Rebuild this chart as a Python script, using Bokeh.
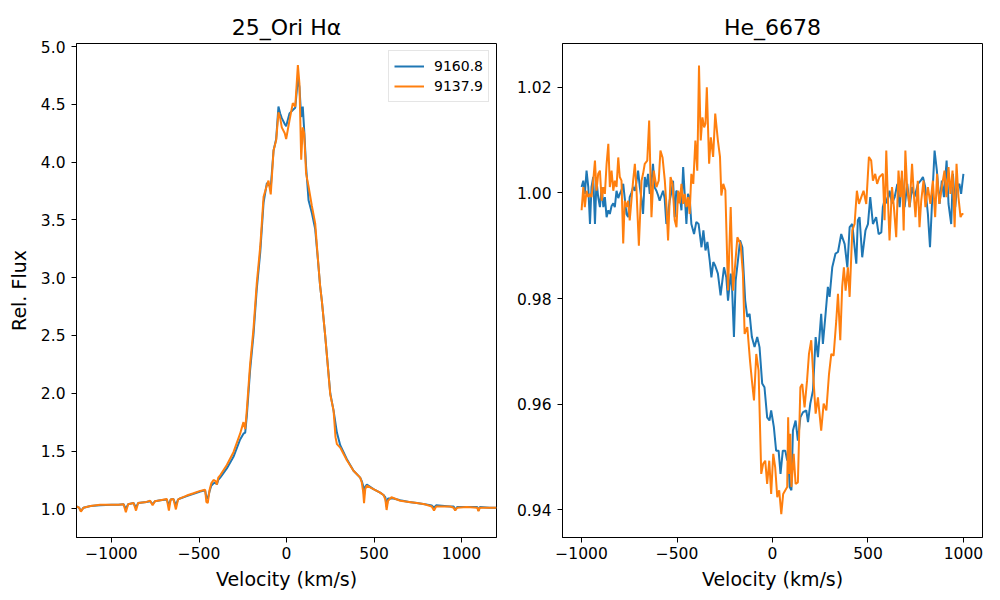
from bokeh.plotting import figure
from bokeh.layouts import row
from bokeh.models import Range1d, FixedTicker
from bokeh.embed import file_html
from bokeh.resources import INLINE

# ---------------- data: left panel (H-alpha) ----------------
ha_vel_a = [-1200, -1185, -1175, -1160, -1120, -1065, -1000, -960, -931, -918, -905, -874, -860, -848,
            -800, -779, -765, -752, -720, -684, -672, -662, -646, -632, -620, -608, -570, -531, -493,
            -465, -458, -450, -440, -430, -417, -405, -398, -390, -379, -341, -303, -265, -246, -236,
            -227, -208, -189, -170, -150, -131, -112, -100, -90, -74, -59, -46, -36, -27, -10, -2, 17,
            36, 50, 65, 74, 84, 93, 101, 112, 126, 145, 164, 177, 192, 202, 221, 250, 269, 288, 307,
            345, 383, 421, 430, 438, 443, 450, 459, 497, 535, 554, 565, 572, 580, 611, 650, 700, 745,
            790, 830, 843, 855, 935, 955, 964, 975, 1030, 1090, 1097, 1105, 1160, 1200]
ha_flux_a = [1.02, 1.01, 0.98, 1.01, 1.025, 1.03, 1.035, 1.035, 1.04, 1.00, 1.04, 1.05, 1.01, 1.05,
             1.06, 1.065, 1.04, 1.065, 1.075, 1.08, 1.03, 1.08, 1.085, 1.03, 1.08, 1.09, 1.11, 1.13, 1.15,
             1.16, 1.10, 1.09, 1.15, 1.20, 1.22, 1.23, 1.21, 1.25, 1.27, 1.35, 1.45, 1.60, 1.65, 1.66,
             1.80, 2.20, 2.50, 2.90, 3.22, 3.65, 3.82, 3.80, 3.78, 4.10, 4.20, 4.48, 4.42, 4.38, 4.33, 4.31, 4.42,
             4.45, 4.47, 4.72, 4.65, 4.39, 4.48, 4.28, 3.96, 3.67, 3.56, 3.42, 3.20, 2.93, 2.80, 2.50, 2.00,
             1.85, 1.66, 1.55, 1.43, 1.33, 1.27, 1.24, 1.20, 1.12, 1.19, 1.21, 1.17, 1.14, 1.12, 1.10, 1.02,
             1.09, 1.09, 1.075, 1.06, 1.05, 1.04, 1.03, 1.01, 1.03, 1.02, 1.02, 0.99, 1.015, 1.015, 1.015,
             0.985, 1.015, 1.01, 1.01]

ha_vel_b = [-1200, -1185, -1175, -1160, -1120, -1065, -1000, -960, -931, -918, -905, -874, -860, -848,
            -800, -779, -765, -752, -720, -684, -672, -662, -646, -632, -620, -608, -570, -531, -493,
            -465, -458, -450, -440, -430, -417, -405, -398, -390, -379, -341, -303, -265, -246, -236,
            -227, -208, -189, -170, -150, -131, -112, -103, -90, -74, -59, -46, -36, -27, -10, -2, 17,
            36, 50, 65, 74, 84, 93, 101, 112, 126, 145, 164, 177, 192, 202, 221, 250, 269, 280, 288, 307,
            345, 383, 421, 430, 438, 443, 450, 459, 497, 535, 554, 565, 572, 580, 600, 650, 700, 745,
            790, 830, 843, 855, 935, 955, 964, 975, 1030, 1090, 1097, 1105, 1160, 1200]
ha_flux_b = [1.02, 1.01, 0.975, 1.01, 1.025, 1.035, 1.035, 1.035, 1.04, 0.97, 1.04, 1.05, 0.985, 1.05,
             1.06, 1.07, 1.03, 1.065, 1.075, 1.085, 0.985, 1.08, 1.085, 0.995, 1.08, 1.09, 1.115, 1.135, 1.155,
             1.165, 1.06, 1.05, 1.16, 1.22, 1.25, 1.24, 1.21, 1.27, 1.29, 1.38, 1.49, 1.65, 1.75, 1.69,
             1.85, 2.25, 2.55, 2.95, 3.27, 3.70, 3.80, 3.84, 3.72, 4.10, 4.19, 4.43, 4.38, 4.30, 4.25, 4.20, 4.36,
             4.51, 4.48, 4.84, 4.68, 4.02, 4.30, 4.25, 3.90, 3.79, 3.62, 3.47, 3.21, 2.93, 2.80, 2.50, 1.99,
             1.85, 1.62, 1.56, 1.53, 1.42, 1.33, 1.27, 1.23, 1.15, 1.05, 1.17, 1.20, 1.17, 1.14, 1.12, 1.08, 0.99,
             1.07, 1.10, 1.07, 1.06, 1.05, 1.04, 1.02, 0.985, 1.02, 1.02, 1.01, 0.985, 1.01, 1.015, 1.01,
             0.98, 1.01, 1.01, 1.01]

# ---------------- data: right panel (He 6678) ----------------
he_vel_a = [-1000, -991, -983, -974, -965, -956, -948, -939, -930, -922, -913, -904, -895, -886, -878,
            -869, -860, -852, -843, -834, -826, -817, -808, -800, -791, -782, -774, -765, -756, -748,
            -739, -730, -721, -713, -704, -695, -687, -678, -669, -660, -652, -643, -634, -626, -617,
            -608, -599, -591, -582, -573, -565, -556, -547, -539, -530, -521, -512, -504, -495, -486,
            -477, -468, -460, -451, -443, -434, -425, -411, -399, -387, -372, -362, -351, -341, -329,
            -320, -310, -300, -286, -272, -254, -242, -233, -219, -212, -202, -193, -181, -170, -158,
            -143, -132, -120, -108, -94, -80, -68, -54, -42, -28, -16, -7, 7, 19, 32, 42, 54, 67, 77,
            81, 90, 99, 107, 121, 133, 146, 160, 177, 186, 198, 212, 226, 238, 255, 264, 278, 290, 299,
            313, 330, 343, 360, 378, 392, 404, 418, 430, 439, 447, 456, 470, 487, 500, 512, 526, 543,
            556, 570, 578, 591, 601, 613, 626, 640, 654, 666, 678, 692, 706, 718, 731, 744, 762, 776,
            788, 800, 814, 825, 837, 849, 861, 875, 887, 898, 912, 922, 936, 945, 957, 967, 979, 988, 1000]
he_flux_a = [1.0011, 1.0023, 0.9998, 1.0042, 1.0011, 0.9941, 1.0011, 1.0030, 0.9941, 1.0023, 0.9992,
             0.9973, 1.0011, 0.9973, 0.9992, 0.9954, 0.9967, 0.9960, 0.9975, 0.9980, 0.9973, 1.0004,
             0.9990, 0.9998, 1.0005, 1.0017, 0.9990, 0.9960, 0.9954, 0.9992, 1.0000, 1.0011, 1.0004,
             1.0020, 1.0042, 1.0011, 0.9990, 0.9960, 1.0030, 1.0011, 1.0036, 0.9998, 1.0020, 1.0055,
             1.0010, 1.0004, 0.9995, 0.9985, 0.9995, 1.0004, 0.9990, 0.9941, 0.9960, 0.9985, 1.0000,
             1.0023, 0.9954, 1.0004, 1.0000, 0.9998, 0.9967, 1.0049, 0.9998, 0.9941, 0.9998, 0.9992,
             0.9941, 0.9922, 0.9945, 0.9941, 0.9897, 0.9929, 0.9891, 0.9907, 0.9872, 0.9840, 0.9869,
             0.9862, 0.9847, 0.9806, 0.9859, 0.9840, 0.9796, 0.9847, 0.9822, 0.9727, 0.9834, 0.9872,
             0.9910, 0.9897, 0.9796, 0.9765, 0.9771, 0.9727, 0.9708, 0.9727, 0.9708, 0.9639, 0.9632,
             0.9575, 0.9569, 0.9588, 0.9557, 0.9512, 0.9512, 0.9468, 0.9512, 0.9512, 0.9493, 0.9506,
             0.9443, 0.9437, 0.9550, 0.9569, 0.9531, 0.9575, 0.9585, 0.9588, 0.9566, 0.9601, 0.9626,
             0.9727, 0.9689, 0.9771, 0.9714, 0.9771, 0.9822, 0.9803, 0.9859, 0.9885, 0.9888, 0.9922,
             0.9903, 0.9859, 0.9935, 0.9941, 0.9897, 0.9866, 0.9948, 0.9954, 0.9878, 0.9929, 0.9941,
             0.9992, 0.9941, 0.9954, 0.9922, 0.9925, 0.9973, 0.9992, 0.9980, 1.0004, 0.9980, 0.9992,
             1.0017, 0.9973, 1.0030, 0.9973, 1.0017, 0.9973, 1.0011, 0.9992, 1.0017, 1.0023, 1.0030,
             1.0011, 0.9960, 0.9897, 0.9992, 1.0080, 1.0042, 0.9979, 1.0023, 0.9992, 1.0061, 0.9979,
             0.9941, 1.0036, 0.9973, 1.0011, 1.0017, 0.9998, 1.0036]

he_vel_b = [-1000, -991, -983, -974, -965, -956, -948, -939, -930, -922, -913, -904, -895, -886, -878,
            -869, -860, -852, -843, -834, -826, -817, -808, -800, -791, -782, -774, -765, -756, -748,
            -739, -730, -721, -713, -700, -686, -678, -669, -656, -646, -634, -622, -608, -596, -587,
            -576, -564, -555, -547, -534, -524, -512, -503, -494, -486, -477, -468, -460, -451, -443,
            -434, -425, -415, -404, -394, -385, -376, -367, -358, -351, -344, -332, -323, -311, -300,
            -286, -275, -268, -258, -247, -233, -219, -207, -198, -184, -167, -155, -146, -132, -118,
            -108, -97, -85, -73, -59, -49, -38, -28, -17, -7, 4, 14, 25, 35, 46, 56, 67, 77, 82, 88,
            93, 99, 111, 121, 133, 146, 156, 168, 181, 191, 203, 215, 226, 238, 255, 268, 282, 296, 308,
            320, 334, 343, 355, 365, 374, 383, 395, 404, 418, 430, 442, 453, 465, 477, 491, 505, 517,
            526, 538, 548, 560, 578, 587, 596, 604, 613, 626, 636, 648, 660, 670, 678, 687, 696, 705,
            718, 731, 740, 749, 761, 770, 779, 791, 801, 814, 827, 840, 852, 862, 874, 887, 901, 911,
            922, 932, 943, 954, 964, 974, 985, 993, 1000]
he_flux_b = [0.9967, 1.0011, 0.9973, 1.0004, 0.9992, 0.9998, 0.9992, 1.0023, 1.0061, 1.0004, 1.0036,
             1.0042, 0.9985, 1.0011, 0.9998, 1.0055, 1.0093, 1.0011, 1.0042, 1.0004, 1.0023, 1.0011,
             1.0067, 1.0030, 1.0023, 0.9904, 0.9985, 0.9973, 0.9985, 0.9948, 0.9985, 1.0023, 1.0055,
             1.0011, 0.9900, 1.0023, 1.0036, 1.0055, 1.0061, 1.0137, 0.9954, 1.0042, 1.0011, 1.0023,
             1.0080, 1.0067, 1.0023, 0.9973, 0.9910, 1.0030, 1.0017, 0.9948, 0.9935, 1.0004, 0.9980,
             1.0017, 0.9979, 0.9998, 0.9973, 0.9992, 0.9960, 1.0036, 1.0017, 1.0099, 1.0042, 1.0241,
             1.0099, 1.0143, 1.0124, 1.0131, 1.0200, 1.0055, 1.0105, 1.0068, 1.0150, 1.0099, 1.0068,
             0.9995, 1.0017, 1.0005, 0.9815, 0.9973, 0.9815, 0.9853, 0.9916, 0.9903, 0.9847, 0.9733,
             0.9746, 0.9683, 0.9645, 0.9607, 0.9695, 0.9664, 0.9468, 0.9487, 0.9493, 0.9449, 0.9493,
             0.9430, 0.9506, 0.9481, 0.9424, 0.9437, 0.9392, 0.9430, 0.9437, 0.9443, 0.9575, 0.9468,
             0.9544, 0.9443, 0.9506, 0.9449, 0.9452, 0.9632, 0.9638, 0.9594, 0.9645, 0.9695, 0.9721,
             0.9645, 0.9582, 0.9613, 0.9550, 0.9601, 0.9588, 0.9657, 0.9695, 0.9692, 0.9758, 0.9809,
             0.9721, 0.9822, 0.9859, 0.9815, 0.9859, 0.9803, 0.9929, 0.9941, 1.0004, 0.9979, 0.9992,
             1.0004, 0.9979, 1.0068, 1.0061, 1.0023, 1.0036, 1.0017, 1.0030, 1.0036, 0.9948, 1.0080,
             0.9992, 0.9910, 1.0011, 0.9973, 0.9916, 1.0042, 0.9992, 1.0042, 0.9929, 1.0080, 1.0011,
             0.9973, 1.0055, 0.9998, 0.9954, 1.0023, 0.9935, 0.9985, 1.0023, 0.9973, 1.0011, 0.9979,
             1.0023, 0.9954, 1.0036, 0.9979, 1.0011, 1.0042, 0.9992, 1.0049, 0.9998, 1.0042, 0.9935,
             1.0055, 0.9992, 0.9954, 0.9960, 0.9960]

series_labels = ["9160.8", "9137.9"]
titles = ["25_Ori H\u03b1", "He_6678"]
x_label = "Velocity (km/s)"
y_label = "Rel. Flux"
x_ticks = [-1000, -500, 0, 500, 1000]
ha_y_ticks = [1.0, 1.5, 2.0, 2.5, 3.0, 3.5, 4.0, 4.5, 5.0]
he_y_ticks = [0.94, 0.96, 0.98, 1.00, 1.02]

BLUE = "#1f77b4"
ORANGE = "#ff7f0e"
FONT = "DejaVu Sans"


def style(p, yfmt, yticks):
    p.title.text_font = FONT
    p.title.text_font_size = "22px"
    p.title.text_font_style = "normal"
    p.title.text_color = "black"
    p.title.align = "center"
    p.title.standoff = 8
    p.outline_line_color = "black"
    p.outline_line_width = 1
    p.outline_line_alpha = 1
    p.background_fill_color = "white"
    p.border_fill_color = "white"
    p.xgrid.visible = False
    p.ygrid.visible = False
    for ax in (p.xaxis[0], p.yaxis[0]):
        ax.axis_line_color = "black"
        ax.major_tick_line_color = "black"
        ax.major_tick_out = 5
        ax.major_tick_in = 0
        ax.minor_tick_line_color = None
        ax.major_label_text_font = FONT
        ax.major_label_text_font_size = "15.5px"
        ax.major_label_text_color = "black"
        ax.axis_label_text_font = FONT
        ax.axis_label_text_font_size = "19px"
        ax.axis_label_text_font_style = "normal"
        ax.axis_label_text_color = "black"
    p.xaxis.ticker = FixedTicker(ticks=x_ticks)
    p.xaxis.major_label_overrides = {t: str(t).replace("-", "\u2212") for t in x_ticks}
    p.xaxis.major_label_standoff = 4
    p.xaxis.axis_label_standoff = 6
    p.yaxis.ticker = FixedTicker(ticks=yticks)
    p.yaxis.major_label_overrides = {t: (yfmt % t) for t in yticks}
    p.yaxis.major_label_standoff = 6
    p.yaxis.axis_label_standoff = 8


p1 = figure(width=500, height=596, output_backend="svg", toolbar_location=None,
            x_range=Range1d(-1200, 1200), y_range=Range1d(0.752, 5.026),
            title=titles[0], min_border_left=76, min_border_right=4,
            min_border_top=43, min_border_bottom=59)
p1.line(ha_vel_a, ha_flux_a, line_color=BLUE, line_width=2, legend_label=series_labels[0])
p1.line(ha_vel_b, ha_flux_b, line_color=ORANGE, line_width=2, legend_label=series_labels[1])
style(p1, "%.1f", ha_y_ticks)
p1.xaxis.axis_label = x_label
p1.yaxis.axis_label = y_label
lg = p1.legend[0]
lg.location = "top_right"
lg.margin = 7
lg.padding = 5
lg.spacing = 0
lg.label_text_font = FONT
lg.label_text_font_size = "14px"
lg.label_text_color = "black"
lg.glyph_width = 30
lg.glyph_height = 20
lg.label_height = 20
lg.label_standoff = 10
lg.border_line_color = "#cccccc"
lg.border_line_width = 1
lg.background_fill_alpha = 0.8

p2 = figure(width=500, height=596, output_backend="svg", toolbar_location=None,
            x_range=Range1d(-1100, 1100), y_range=Range1d(0.93476, 1.02827),
            title=titles[1], min_border_left=62, min_border_right=18,
            min_border_top=43, min_border_bottom=59)
p2.line(he_vel_a, he_flux_a, line_color=BLUE, line_width=2)
p2.line(he_vel_b, he_flux_b, line_color=ORANGE, line_width=2)
style(p2, "%.2f", he_y_ticks)
p2.xaxis.axis_label = x_label

layout = row(p1, p2)
open("out.html", "w").write(file_html(layout, INLINE))
